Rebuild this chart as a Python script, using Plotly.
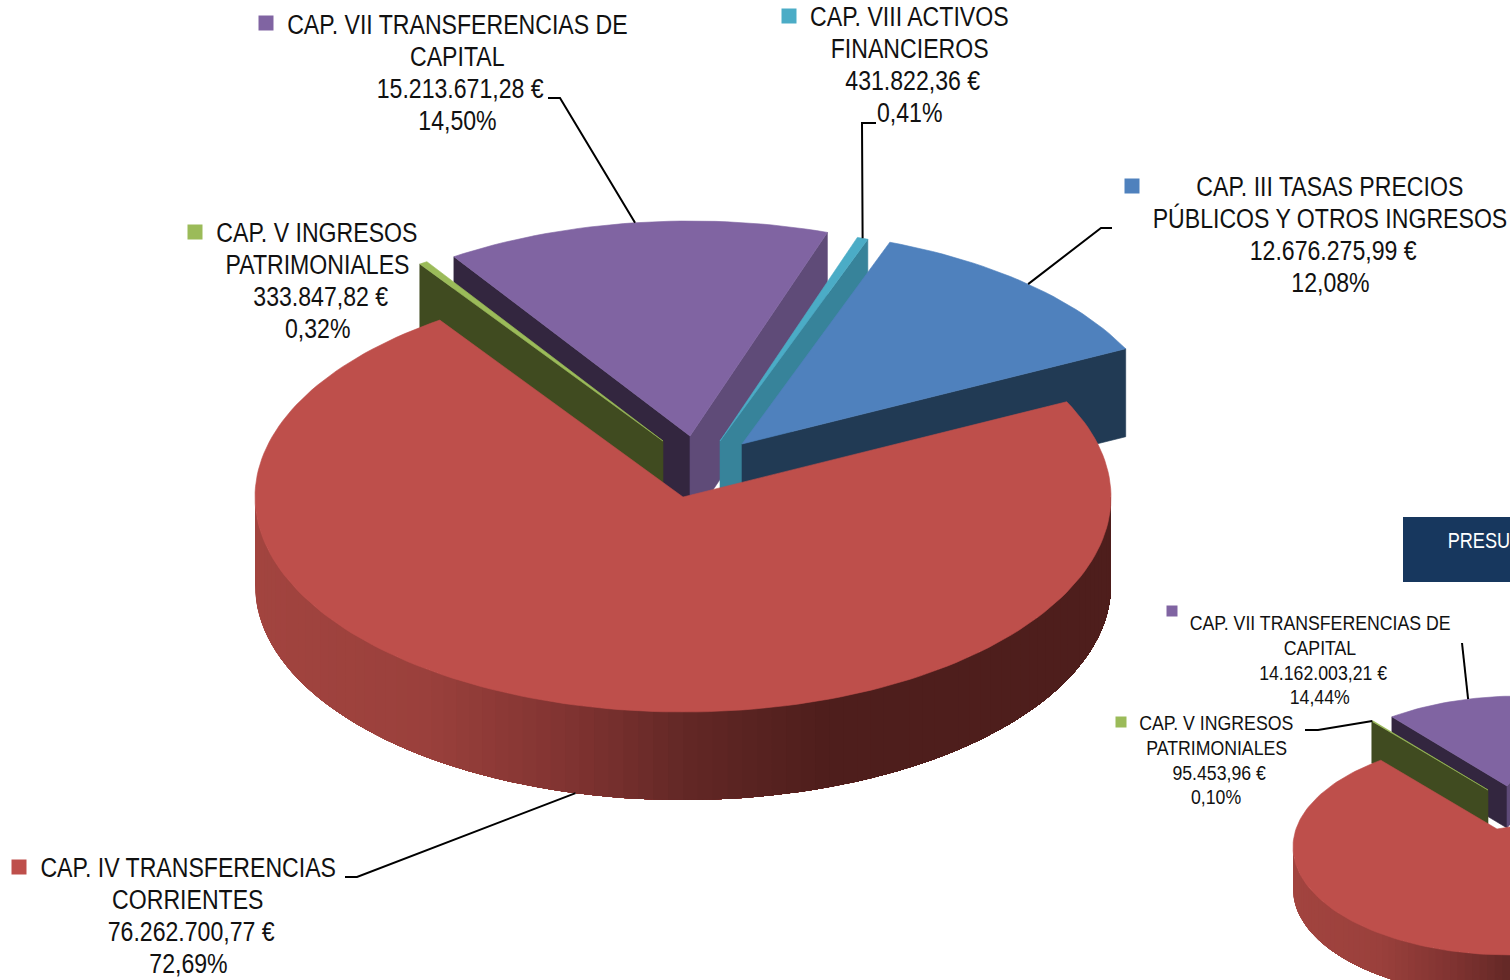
import math
import plotly.graph_objects as go

# ---------- data ----------
CHAPTERS = ["CAP. IV TRANSFERENCIAS", "CAP. V INGRESOS", "CAP. VII TRANSFERENCIAS DE",
            "CAP. VIII ACTIVOS", "CAP. III TASAS PRECIOS"]
CHAPTERS_LINE2 = ["CORRIENTES", "PATRIMONIALES", "CAPITAL", "FINANCIEROS", "PÚBLICOS Y OTROS INGRESOS"]
main_values = [76262700.77, 333847.82, 15213671.28, 431822.36, 12676275.99]
# second pie: only IV (estimated share), V and VII are in view; VIII and III are estimates, off-frame
inset_values = [71200000.0, 95453.96, 14162003.21, 400000.0, 12212542.83]

# ---------- styling / layout ----------
TOP = ["#BE4F4B", "#9BBB59", "#8064A2", "#4BACC6", "#4F81BD"]
FACE_HIGH = [None, "#404B20", "#33263F", None, None]
FACE_LOW = [None, None, "#5F4B78", "#37839A", "#213A54"]
WALL_STOPS = [(0, (162, 68, 63)), (.2, (154, 64, 60)), (.38, (126, 50, 48)),
              (.5, (99, 40, 38)), (.67, (78, 30, 28)), (1, (78, 30, 28))]
FONT = "Liberation Sans, Arial, sans-serif"

MAIN = dict(cx=683, cy=497, rx=428, ry=215, depth=88, start=26.3, apex=(0, 0),
            offs=[(0, 0), (-20, -56), (7, -61), (37, -56), (59, -53)])
INSET = dict(cx=1510, cy=847, rx=217, ry=108, depth=42, start=27.9, apex=(-13, -18),
             offs=[(0, 0), (-9, -39), (10, -43), (18, -28), (30, -27)])


def wall_color(t):
    for (a, ca), (b, cb) in zip(WALL_STOPS, WALL_STOPS[1:]):
        if t <= b:
            f = (t - a) / (b - a)
            return "rgb(%d,%d,%d)" % tuple(round(p + (q - p) * f) for p, q in zip(ca, cb))
    return "rgb(78,30,28)"


def poly(fig, xs, ys, color, lw=0.6):
    fig.add_trace(go.Scatter(x=list(xs) + [xs[0]], y=list(ys) + [ys[0]], mode="lines", fill="toself",
                             fillcolor=color, line=dict(color=color, width=lw),
                             hoverinfo="skip", showlegend=False))


def slice_angles(values, start):
    total = sum(values)
    out, a = [], start
    for v in values:
        sweep = 360 * v / total
        out.append((a, a - sweep))   # clockwise from a (high) to a-sweep (low)
        a -= sweep
    return out


def rim(p, i, deg, down=0):
    dx, dy = p["offs"][i]
    r = math.radians(deg)
    return (p["cx"] + dx + p["rx"] * math.cos(r), p["cy"] + dy - p["ry"] * math.sin(r) + down)


def apex(p, i):
    dx, dy = p["offs"][i]
    return (p["cx"] + dx + p["apex"][0], p["cy"] + dy + p["apex"][1])


def arc(p, i, hi, lo, n=None):
    n = n or max(2, int(abs(hi - lo) / 1.5))
    return [rim(p, i, hi + (lo - hi) * k / n) for k in range(n + 1)]


def draw_pie(fig, p, values):
    ang = slice_angles(values, p["start"])
    d = p["depth"]
    for i in (2, 1, 3, 4):   # back slices, far to near
        hi, lo = ang[i]
        ax, ay = apex(p, i)
        for edge, col in ((hi, FACE_HIGH[i]), (lo, FACE_LOW[i])):
            if col:
                x, y = rim(p, i, edge)
                poly(fig, [ax, x, x, ax], [ay, y, y + d, ay + d], col)
        pts = [(ax, ay)] + arc(p, i, hi, lo)
        poly(fig, [q[0] for q in pts], [q[1] for q in pts], TOP[i])
    # outer wall of the large slice: each band runs on to the far end and the next one paints over it,
    # so no seams show between the shades
    hi, lo = ang[0]
    step = 2.0
    a = 180.0
    while a < 360:
        n = max(2, int((360 - a) / 2))
        low = [rim(p, 0, a + (360 - a) * k / n, d) for k in range(n + 1)]
        up = [rim(p, 0, 360 - (360 - a) * k / n) for k in range(n + 1)]
        pts = low + up
        x0 = rim(p, 0, a)[0]
        x1 = rim(p, 0, a + step)[0]
        t = ((x0 + x1) / 2 - (p["cx"] - p["rx"])) / (2 * p["rx"])
        poly(fig, [q[0] for q in pts], [q[1] for q in pts], wall_color(t), lw=0)
        a += step
    ax, ay = apex(p, 0)
    pts = [(ax, ay)] + arc(p, 0, hi, lo)
    poly(fig, [q[0] for q in pts], [q[1] for q in pts], TOP[0])
    return ang


def eur(v):
    s = f"{v:,.2f}".replace(",", "X").replace(".", ",").replace("X", ".")
    return s + " €"


def pct(v, values):
    return f"{100 * v / sum(values):.2f}".replace(".", ",") + "%"


def label(fig, i, values, cx, y0, lh, size, mx, my, msize):
    lines = [CHAPTERS[i], CHAPTERS_LINE2[i], eur(values[i]), pct(values[i], values)]
    for k, line in enumerate(lines):
        # the amount line sits a little right of the block's centre in the source
        shift = 3.5 if k == 2 else 0
        fig.add_annotation(x=cx + shift, y=y0 + k * lh, text=line, showarrow=False, xanchor="center",
                           yanchor="middle", font=dict(family=FONT, size=size, color="#111111"))
    fig.add_trace(go.Scatter(x=[mx], y=[my], mode="markers", showlegend=False, hoverinfo="skip",
                             marker=dict(symbol="square", size=msize, color=TOP[i])))


def leader(fig, p, ang, i, elbow, frac=0.5):
    hi, lo = ang[i]
    deg = hi + (lo - hi) * frac
    down = p["depth"] if math.sin(math.radians(deg)) < 0 else 0
    end = rim(p, i, deg, down)
    fig.add_trace(go.Scatter(x=[q[0] for q in elbow] + [end[0]], y=[q[1] for q in elbow] + [end[1]],
                             mode="lines", line=dict(color="#000000", width=2),
                             showlegend=False, hoverinfo="skip"))


fig = go.Figure()
ang_inset = draw_pie(fig, INSET, inset_values)
ang_main = draw_pie(fig, MAIN, main_values)

leader(fig, MAIN, ang_main, 2, [(548, 98), (560, 98)])
leader(fig, MAIN, ang_main, 3, [(876, 123), (862, 123)])
leader(fig, MAIN, ang_main, 4, [(1112, 228), (1101, 228)])
leader(fig, MAIN, ang_main, 0, [(345, 877), (357, 877)])
leader(fig, INSET, ang_inset, 2, [(1462, 643)], frac=0.43)
leader(fig, INSET, ang_inset, 1, [(1305, 730), (1318, 730)])

BIG, SMALL = 28, 20.5
label(fig, 2, main_values, 457, 24.5, 32, BIG, 266, 23, 15)
label(fig, 3, main_values, 909, 16.5, 32, BIG, 789, 16, 15)
label(fig, 4, main_values, 1330, 186.5, 32, BIG, 1132, 186, 15)
label(fig, 1, main_values, 317, 232.5, 32, BIG, 195, 232, 15)
label(fig, 0, main_values, 188, 867.5, 32, BIG, 19, 867, 15)
label(fig, 2, inset_values, 1320, 622.5, 24.8, SMALL, 1172, 611, 11)
label(fig, 1, inset_values, 1216, 722.5, 24.8, SMALL, 1121, 722, 11)

fig.add_shape(type="rect", x0=1403, x1=1520, y0=517, y1=582, fillcolor="#17375E", line_width=0, layer="above")
fig.add_annotation(x=1479, y=540, text="PRESU", showarrow=False, xanchor="center", yanchor="middle",
                   font=dict(family=FONT, size=22, color="#FFFFFF"))

fig.update_xaxes(range=[0, 1510], visible=False, fixedrange=True)
fig.update_yaxes(range=[980, 0], visible=False, fixedrange=True)
fig.update_layout(width=1510, height=980, margin=dict(l=0, r=0, t=0, b=0),
                  paper_bgcolor="#FFFFFF", plot_bgcolor="#FFFFFF", showlegend=False)

# no condensed face is installed: narrow the real text elements about their own centres
POST = """
document.body.style.margin='0';document.body.style.overflow='hidden';
var gd=document.getElementById('{plot_id}');
function narrow(){
  gd.querySelectorAll('text.annotation-text').forEach(function(t){
    var b=t.getBBox(), c=b.x+b.width/2;
    var s=parseFloat(t.style.fontSize)>21?0.825:0.864;
    t.setAttribute('transform','translate('+c+',0) scale('+s+',1) translate('+(-c)+',0)');
  });
}
narrow(); if(gd.on){gd.on('plotly_afterplot',narrow);} setTimeout(narrow,50);
"""
fig.write_html("out.html", config=dict(displayModeBar=False), post_script=POST)
